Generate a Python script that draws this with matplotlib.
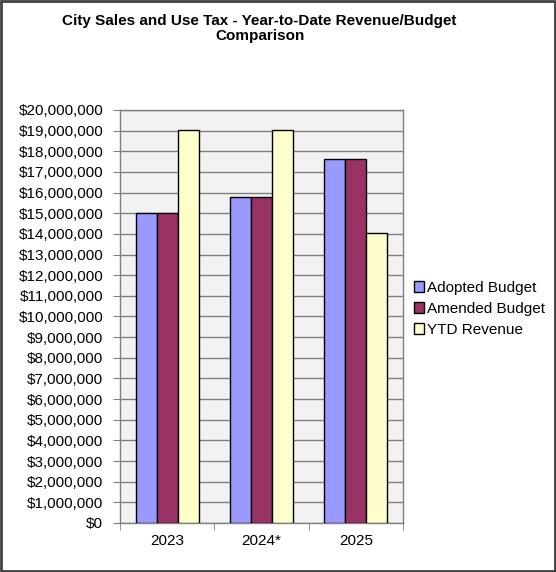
import numpy as np
import matplotlib
matplotlib.use("Agg")
import matplotlib.pyplot as plt
from matplotlib.ticker import FuncFormatter, FixedLocator

plt.rcParams['font.family'] = ['Liberation Sans', 'DejaVu Sans']

years = ['2023', '2024*', '2025']
adopted = [15000000, 15780000, 17640000]
amended = [15000000, 15780000, 17640000]
ytd_revenue = [19030000, 19030000, 14030000]
series_names = ['Adopted Budget', 'Amended Budget', 'YTD Revenue']
colors = ['#9999FF', '#993366', '#FFFFCC']

fig = plt.figure(figsize=(5.56, 5.72), dpi=100)
ax = fig.add_axes([0.2158, 0.0857, 0.509, 0.722])

x = np.arange(len(years))
w = 1 / 4.5
for i, (vals, name) in enumerate(zip([adopted, amended, ytd_revenue], series_names)):
    ax.bar(x + (i - 1) * w, vals, width=w, color=colors[i], edgecolor='black',
           linewidth=1.0, label=name, zorder=3)

ax.set_facecolor('#F2F2F2')
ax.set_xlim(-0.5, 2.5)
ax.set_ylim(0, 20000000)
ax.set_yticks(np.arange(0, 20000001, 1000000))
ax.yaxis.set_major_formatter(FuncFormatter(lambda v, p: '${:,.0f}'.format(v)))
ax.grid(axis='y', color='#808080', linewidth=1.0, zorder=1)
ax.tick_params(axis='y', direction='out', length=5, color='#808080', labelsize=11, pad=7)

ax.set_xticks(x)
ax.set_xticklabels(years, fontsize=11)
ax.tick_params(axis='x', length=0, pad=8)
ax.xaxis.set_minor_locator(FixedLocator([-0.5, 0.5, 1.5, 2.5]))
ax.tick_params(axis='x', which='minor', direction='out', length=5, color='#808080')

for s in ax.spines.values():
    s.set_color('#808080')
    s.set_linewidth(1.0)

fig.suptitle('City Sales and Use Tax - Year-to-Date Revenue/Budget\nComparison',
             x=0.467, fontsize=11, fontweight='bold', y=0.975, linespacing=1.1)

ax.legend(loc='center left', bbox_to_anchor=(1.0, 0.518), frameon=False,
          fontsize=11, handlelength=0.7, handleheight=0.7, handletextpad=0.15,
          labelspacing=0.45, borderaxespad=0.3)

fig.patches.append(plt.Rectangle((0.002, 0.002), 0.996, 0.996, transform=fig.transFigure,
                                 fill=False, edgecolor='#404040', linewidth=2))

fig.savefig('out.png', dpi=100)
